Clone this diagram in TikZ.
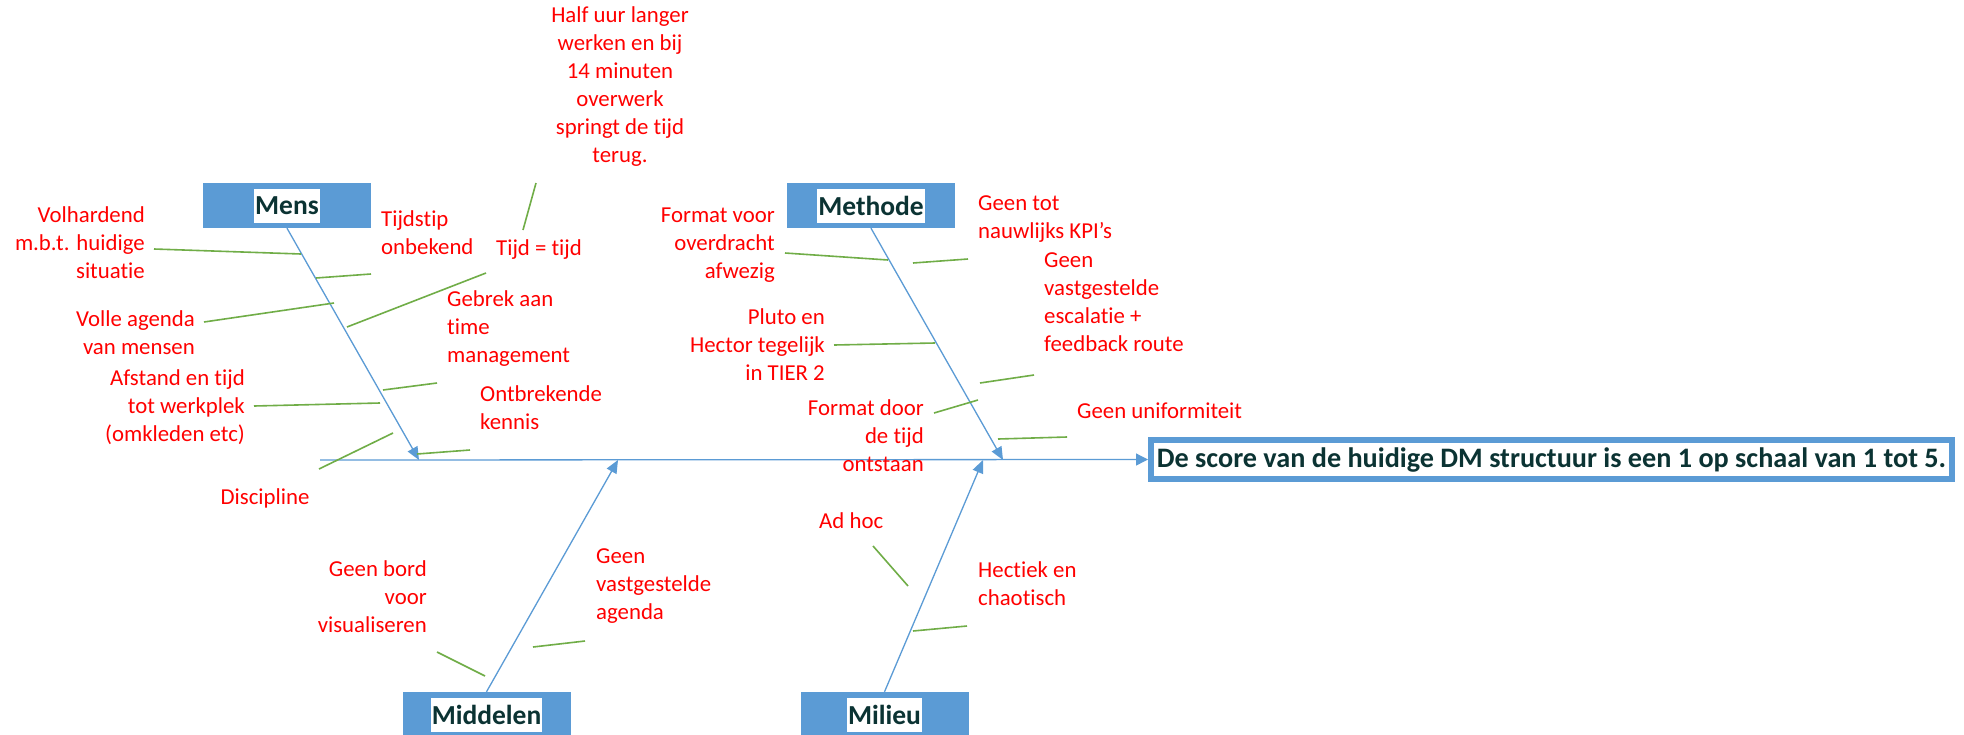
\documentclass[tikz,border=0pt]{standalone}
\usepackage{fontspec}
\setmainfont{Carlito}[Ligatures=NoCommon]
\usetikzlibrary{arrows.meta}

\definecolor{boxblue}{HTML}{5B9BD5}
\definecolor{twiggreen}{HTML}{70AD47}
\definecolor{causered}{HTML}{FF0000}
\definecolor{inkdark}{HTML}{0B3333}

\tikzset{
  bone/.style={draw=boxblue, line width=1.3pt, -{Triangle[length=13pt,width=11pt]}},
  twig/.style={draw=twiggreen, line width=1.6pt},
  catbox/.style={fill=boxblue, minimum width=168pt, minimum height=45pt, inner sep=0pt},
  catlabel/.style={fill=white, text=inkdark, font=\fontsize{27.5}{33}\selectfont\bfseries,
                   inner xsep=1pt, inner ysep=0pt, minimum height=34pt},
  cause/.style={text=causered, font=\fontsize{22.8}{28}\selectfont, inner sep=0pt,
                execute at begin node=\strut},
  causeL/.style={cause, align=left, anchor=north west},
  causeR/.style={cause, align=right, anchor=north east},
  causeC/.style={cause, align=center, anchor=north},
}

\begin{document}
\begin{tikzpicture}[x=1pt, y=-1pt]
  \fill[white] (0,0) rectangle (1964,734);
  \clip (0,0) rectangle (1964,734);

  % effect box and spine
  \node[draw=boxblue, line width=6pt, fill=white, minimum width=801pt, minimum height=39pt,
        inner sep=0pt, text=inkdark, font=\fontsize{28.2}{32}\selectfont\bfseries]
        (effect) at (1551.5,459.5) {De score van de huidige DM structuur is een 1 op schaal van 1 tot 5.};
  \coordinate (tail) at (320,460);
  \draw[bone, -{Triangle[length=12pt,width=12pt]}] (tail) -- (effect.west);

  % category boxes
  \node[catbox] (mens) at (287,205.5) {};
  \node[catlabel] (menstxt) at (mens.center) {Mens};
  \node[catbox] (methode) at (871,205.5) {};
  \node[catlabel] (methodetxt) at (methode.center) {Methode};
  \node[catbox] (middelen) at (486.5,714.5) {};
  \node[catlabel] (middelentxt) at (middelen.center) {Middelen};
  \node[catbox] (milieu) at (884.5,714.5) {};
  \node[catlabel] (milieutxt) at (milieu.center) {Milieu};

  % main bones
  \coordinate (mensTip) at (419,460);
  \coordinate (methodeTip) at (1003,460);
  \coordinate (middelenTip) at (618,460);
  \coordinate (milieuTip) at (983,460);
  \draw[bone] (mens.south) -- (mensTip);
  \draw[bone] (methode.south) -- (methodeTip);
  \draw[bone] (middelen.north) -- (middelenTip);
  \draw[bone] (milieu.north) -- (milieuTip);

  % causes: Mens
  \node[causeR] (volhardend) at (145,206) {Volhardend\\m.b.t. huidige\\situatie};
  \node[causeL] (tijdstip) at (381,210) {Tijdstip\\onbekend};
  \node[causeL] (tijd) at (496,236) {Tijd = tijd};
  \node[causeC] (halfuur) at (620,6) {Half uur langer\\werken en bij\\14 minuten\\overwerk\\springt de tijd\\terug.};
  \node[causeR] (volle) at (195,310) {Volle agenda\\van mensen};
  \node[causeL] (gebrek) at (447,290) {Gebrek aan\\time\\management};
  \node[causeR] (afstand) at (245,369) {Afstand en tijd\\tot werkplek\\(omkleden etc)};
  \node[causeL] (ontbrekende) at (480,385) {Ontbrekende\\kennis};
  \node[causeC] (discipline) at (265,485) {Discipline};

  % causes: Methode
  \node[causeR] (formatvoor) at (775,208) {Format voor\\overdracht\\afwezig};
  \node[causeL] (geentot) at (978,195) {Geen tot\\nauwlijks KPI’s};
  \node[causeL] (escalatie) at (1044,252) {Geen\\vastgestelde\\escalatie +\\feedback route};
  \node[causeR] (pluto) at (825,308) {Pluto en\\Hector tegelijk\\in TIER 2};
  \node[causeR] (formatdoor) at (924,399) {Format door\\de tijd\\ontstaan};
  \node[causeL] (uniform) at (1077,399) {Geen uniformiteit};

  % causes: Milieu
  \node[causeL] (adhoc) at (819,509) {Ad hoc};
  \node[causeL] (hectiek) at (978,561) {Hectiek en\\chaotisch};

  % causes: Middelen
  \node[causeR] (bord) at (427,560) {Geen bord\\voor\\visualiseren};
  \node[causeL] (agenda) at (596,548) {Geen\\vastgestelde\\agenda};

  % sub-bones (green)
  \draw[twig] (154,249) coordinate (t1a) -- (301,254) coordinate (t1b);
  \draw[twig] (316,278) coordinate (t2a) -- (371,274) coordinate (t2b);
  \draw[twig] (523,230) coordinate (t3a) -- (536,183) coordinate (t3b);
  \draw[twig] (347,327) coordinate (t4a) -- (486,273) coordinate (t4b);
  \draw[twig] (204,322) coordinate (t5a) -- (334,303) coordinate (t5b);
  \draw[twig] (383,390) coordinate (t6a) -- (437,383) coordinate (t6b);
  \draw[twig] (254,406) coordinate (t7a) -- (380,403) coordinate (t7b);
  \draw[twig] (417,454) coordinate (t8a) -- (470,450) coordinate (t8b);
  \draw[twig] (319,469) coordinate (t9a) -- (393,433) coordinate (t9b);
  \draw[twig] (785,253) coordinate (t10a) -- (888,260) coordinate (t10b);
  \draw[twig] (913,263) coordinate (t11a) -- (968,259) coordinate (t11b);
  \draw[twig] (980,383) coordinate (t12a) -- (1034,375) coordinate (t12b);
  \draw[twig] (834,345) coordinate (t13a) -- (935,343) coordinate (t13b);
  \draw[twig] (934,413) coordinate (t14a) -- (978,400) coordinate (t14b);
  \draw[twig] (998,439) coordinate (t15a) -- (1067,437) coordinate (t15b);
  \draw[twig] (873,546) coordinate (t16a) -- (908,586) coordinate (t16b);
  \draw[twig] (913,631) coordinate (t17a) -- (967,626) coordinate (t17b);
  \draw[twig] (437,652) coordinate (t18a) -- (485,676) coordinate (t18b);
  \draw[twig] (533,647) coordinate (t19a) -- (585,641) coordinate (t19b);
\end{tikzpicture}
\end{document}
